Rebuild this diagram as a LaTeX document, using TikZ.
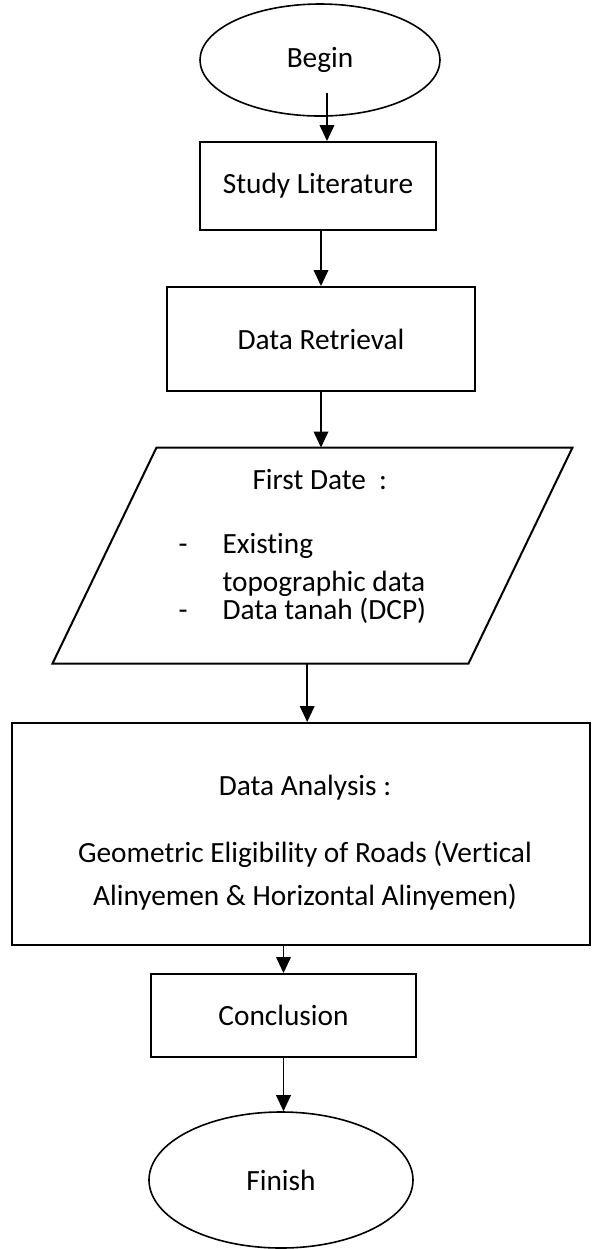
\documentclass[tikz,border=0pt]{standalone}
\usepackage{fontspec}
\setmainfont{Carlito}[Ligatures=NoCommon]
\usetikzlibrary{arrows.meta, shapes.geometric}

\begin{document}
\begin{tikzpicture}[x=0.375pt, y=-0.375pt,
	every node/.style={font={\fontsize{11}{13.6}\selectfont}},
	terminal/.style={draw, ellipse, line width=0.6pt, inner sep=0pt},
	process/.style={draw, rectangle, line width=0.75pt, inner sep=0pt},
	listtext/.style={anchor=west, inner sep=0pt, text height=7pt, text depth=2pt},
	flow/.style={line width=0.6pt, -{Triangle[length=6pt, width=5.5pt]}}]
		\useasboundingbox (0,0) rectangle (591,1249);
		\node [terminal, minimum width=90pt, minimum height=42pt] (begin) at (320,60) {Begin};
		\node [process, minimum width=88.5pt, minimum height=33pt] (study) at (318,186) {Study Literature};
		\node [process, minimum width=115.5pt, minimum height=39pt] (retrieval) at (321,339) {Data Retrieval};
		\node [minimum width=194.6pt, minimum height=80.6pt, inner sep=0pt] (first) at (312.5,555.5) {};
		\draw [line width=0.75pt] ([xshift=39pt]first.north west) -- (first.north east) -- ([xshift=-39pt]first.south east) -- (first.south west) -- cycle;
		\node [listtext] (firsthead) at (252,483) {First Date~~:};
		\foreach \y in {547,613}{
			\node [listtext] (dash\y) at (178,\y) {-};
		}
		\node [listtext] (existing) at (222,547) {Existing};
		\node [listtext] (topo) at (222,585) {topographic data};
		\node [listtext] (tanah) at (222,613) {Data tanah (DCP)};
		\node [process, minimum width=216.75pt, minimum height=83.25pt] (analysis) at (301,834) {};
		\node [align=center, inner sep=0pt] (analysistext) at (305,843) {Data Analysis :\\[11.5pt] Geometric Eligibility of Roads (Vertical\\[2.5pt] Alinyemen \& Horizontal Alinyemen)};
		\node [process, minimum width=99.4pt, minimum height=31.1pt] (conclusion) at (283.5,1015.5) {Conclusion};
		\node [terminal, minimum width=99pt, minimum height=51pt] (finish) at (281,1180) {Finish};
		\coordinate (bstart) at ([shift={(7,33)}]begin.center);
		\draw [flow] (bstart) -- (bstart |- study.north);
		\draw [flow] (retrieval.north |- study.south) -- (retrieval.north);
		\draw [flow] (retrieval.south) -- (retrieval.south |- first.north);
		\draw [flow] ([xshift=-2pt]first.south) -- ([xshift=-2pt]first.south |- analysis.north);
		\draw [flow] (conclusion.north |- analysis.south) -- (conclusion.north);
		\draw [flow] (conclusion.south) -- (conclusion.south |- finish.north);
	\end{tikzpicture}
\end{document}
